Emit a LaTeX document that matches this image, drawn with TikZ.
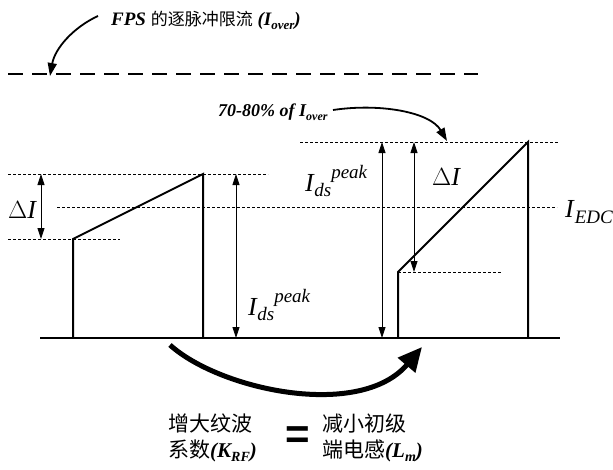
\documentclass[tikz,border=0pt]{standalone}
\usepackage{fontspec}
\setmainfont{Liberation Serif}
\newfontfamily\cjk{Noto Sans CJK SC}
\newfontfamily\sansf{Liberation Sans}
\usetikzlibrary{arrows.meta}
\newcommand{\fs}[1]{\fontsize{#1}{#1}\selectfont}
\begin{document}
\begin{tikzpicture}[x=1pt,y=-1pt,
 pulse/.style={line width=2pt},
 guide/.style={line width=0.7pt, dash pattern=on 3pt off 2pt},
 dim/.style={line width=0.9pt,{Triangle[length=11pt,width=7pt]}-{Triangle[length=11pt,width=7pt]}},
 lbl/.style={inner sep=0pt, anchor=base west},
 callout/.style={line width=1.8pt,-{Triangle[length=13pt,width=9pt]}},
 bigarrow/.style={line width=5pt,-{Triangle[length=24pt,width=22pt]}},
 twoline/.style={inner sep=0pt, anchor=north west, align=left, font=\cjk\fontsize{21}{26}\selectfont}]
\useasboundingbox (0,0) rectangle (613,469);
% limit line
\coordinate (lim0) at (8,74); \coordinate (lim1) at (478,74);
\draw[line width=2.5pt, dash pattern=on 15pt off 9pt] (lim0) -- (lim1);
% baseline
\coordinate (b0) at (40,338); \coordinate (b1) at (560,338);
\draw[line width=2pt] (b0) -- (b1);
% guide lines
\coordinate (g1a) at (8,174);   \coordinate (g1b) at (268,174);
\coordinate (g2a) at (8,239);   \coordinate (g2b) at (120,239);
\coordinate (g3a) at (57,207);  \coordinate (g3b) at (557,207);
\coordinate (g4a) at (300,142); \coordinate (g4b) at (558,142);
\coordinate (g5a) at (398,272); \coordinate (g5b) at (502,272);
\draw[guide] (g1a) -- (g1b);
\draw[guide] (g2a) -- (g2b);
\draw[guide] (g3a) -- (g3b);
\draw[guide] (g4a) -- (g4b);
\draw[guide] (g5a) -- (g5b);
% pulses
\coordinate (L1) at (73,338); \coordinate (L2) at (73,239);
\coordinate (L3) at (203,174); \coordinate (L4) at (203,338);
\draw[pulse] (L1) -- (L2) -- (L3) -- (L4);
\coordinate (R1) at (398,338); \coordinate (R2) at (398,272);
\coordinate (R3) at (528,142); \coordinate (R4) at (528,338);
\draw[pulse] (R1) -- (R2) -- (R3) -- (R4);
% dimension arrows
\coordinate (d1a) at (41,174);  \coordinate (d1b) at (41,239);
\coordinate (d2a) at (236,174); \coordinate (d2b) at (236,338);
\coordinate (d3a) at (382,142); \coordinate (d3b) at (382,338);
\coordinate (d4a) at (414,142); \coordinate (d4b) at (414,272);
\draw[dim] (d1a) -- (d1b);
\draw[dim] (d2a) -- (d2b);
\draw[dim] (d3a) -- (d3b);
\draw[dim] (d4a) -- (d4b);
% labels
\node[lbl] (dIl) at (8,218) {\fs{26}$\Delta$\textit{I}};
\node[lbl] (dIr) at (432,185) {\fs{26}$\Delta$\textit{I}};
\node[lbl] (ipl) at (248,315) {\fs{26}\itshape I\kern0.5pt\raisebox{-5pt}{\fs{19}ds}\raisebox{13pt}{\fs{19}peak}};
\node[lbl] (ipr) at (305,191) {\fs{26}\itshape I\kern0.5pt\raisebox{-5pt}{\fs{19}ds}\raisebox{13pt}{\fs{19}peak}};
\node[lbl] (iedc) at (565,217) {\fs{26}\itshape I\kern1pt\raisebox{-6pt}{\fs{19}EDC}};
\node[lbl] (fps) at (111,25) {\fs{19}\bfseries\itshape FPS {\cjk\mdseries\upshape\fs{17}的逐脉冲限流} (I\raisebox{-4pt}{\fs{13}over})};
\node[lbl] (pct) at (218,116) {\fs{18}\bfseries\itshape 70-80\% of I\raisebox{-4pt}{\fs{12}over}};
% callouts
\coordinate (c1s) at (98,16); \coordinate (c1e) at (50,76);
\draw[callout] (c1s) .. controls (74,27) and (55,48) .. (c1e);
\coordinate (c2s) at (333,110); \coordinate (c2e) at (447,141);
\draw[callout] (c2s) .. controls (380,103) and (430,112) .. (c2e);
% big arrow
\coordinate (a0) at (170,345); \coordinate (a1) at (422,347);
\draw[bigarrow] (a0) .. controls (220,390) and (360,420) .. (a1);
% bottom text
\node[twoline] (k) at (168,414) {增大纹波\\系数{\rmfamily\bfseries\itshape(K\raisebox{-4pt}{\fs{14}RF})}};
\node[inner sep=0pt] (eq) at (298,438) {\sansf\bfseries\fs{42}=};
\node[twoline] (m) at (322,414) {减小初级\\端电感{\rmfamily\bfseries\itshape(L\raisebox{-4pt}{\fs{14}m})}};
\end{tikzpicture}
\end{document}
